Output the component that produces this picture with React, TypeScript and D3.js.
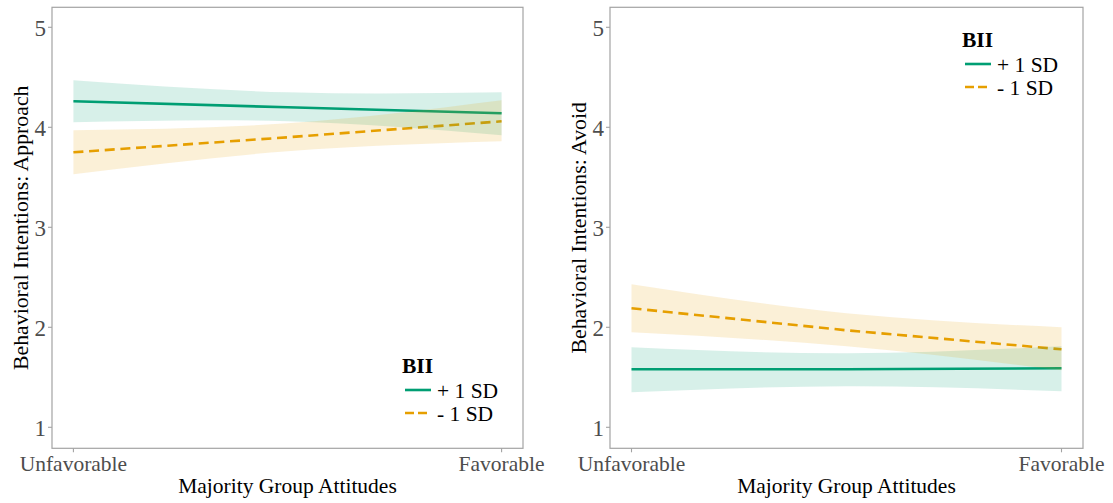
import React from 'react';
import * as d3 from 'd3';

// x positions where the fitted lines and bands were read (0 = Unfavorable, 1 = Favorable)
const xs = [0, 0.5, 1];
const xTickValues = [0, 1];
const xTickLabels = ['Unfavorable', 'Favorable'];
const yTicks = [1, 2, 3, 4, 5];
const groups = ['+ 1 SD', '- 1 SD'];

// Approach panel
const approachHighFit = [4.26, 4.2, 4.14];
const approachHighLo = [4.05, 4.06, 3.92];
const approachHighHi = [4.47, 4.35, 4.35];
const approachLowFit = [3.75, 3.9, 4.06];
const approachLowLo = [3.53, 3.76, 3.86];
const approachLowHi = [3.97, 4.04, 4.27];

// Avoid panel
const avoidHighFit = [1.58, 1.58, 1.59];
const avoidHighLo = [1.35, 1.41, 1.36];
const avoidHighHi = [1.8, 1.74, 1.81];
const avoidLowFit = [2.19, 1.97, 1.78];
const avoidLowLo = [1.95, 1.81, 1.57];
const avoidLowHi = [2.43, 2.14, 2.0];

const colors = ['#009E73', '#E69F00'];
const dashes = [null, '10,5.7'];
const FONT = '"Liberation Serif", "DejaVu Serif", serif';

const panels = [
  {
    left: 52, right: 523, title: 'Behavioral Intentions: Approach', legendY: 373,
    series: [
      { fit: approachHighFit, lo: approachHighLo, hi: approachHighHi },
      { fit: approachLowFit, lo: approachLowLo, hi: approachLowHi },
    ],
  },
  {
    left: 610, right: 1083, title: 'Behavioral Intentions: Avoid', legendY: 47,
    series: [
      { fit: avoidHighFit, lo: avoidHighLo, hi: avoidHighHi },
      { fit: avoidLowFit, lo: avoidLowLo, hi: avoidLowHi },
    ],
  },
];

const TOP = 7.3;
const BOTTOM = 448.3;

function Panel({ p }: { p: any }) {
  const x = d3.scaleLinear().domain([-0.05, 1.05]).range([p.left, p.right]);
  const y = d3.scaleLinear().domain([0.79, 5.2]).range([BOTTOM, TOP]);
  const line = d3.line<number>().x((d, i) => x(xs[i])).y((d) => y(d));
  const cx = (p.left + p.right) / 2;
  const lx = p.right - 121;

  return (
    <g>
      {p.series.map((s: any, i: number) => (
        <path key={'l' + i} d={line(s.fit) || ''} fill="none" stroke={colors[i]}
          strokeWidth={2.6} strokeDasharray={dashes[i] || undefined} />
      ))}
      {p.series.map((s: any, i: number) => {
        const area = d3.area<number>()
          .curve(d3.curveNatural)
          .x((d, j) => x(xs[j]))
          .y0((d, j) => y(s.lo[j]))
          .y1((d) => y(d));
        return <path key={'r' + i} d={area(s.hi) || ''} fill={colors[i]} fillOpacity={0.155} />;
      })}
      <rect x={p.left} y={TOP} width={p.right - p.left} height={BOTTOM - TOP}
        fill="none" stroke="#a3a3a3" strokeWidth={1.2} />
      {yTicks.map((t) => (
        <g key={t}>
          <line x1={p.left - 4} x2={p.left} y1={y(t)} y2={y(t)} stroke="#a3a3a3" strokeWidth={1.1} />
          <text x={p.left - 6} y={y(t)} dy="0.36em" textAnchor="end" fontSize={23} fill="#4d4d4d">{t}</text>
        </g>
      ))}
      {xTickValues.map((t, i) => (
        <g key={t}>
          <line x1={x(t)} x2={x(t)} y1={BOTTOM} y2={BOTTOM + 4} stroke="#a3a3a3" strokeWidth={1.1} />
          <text x={x(t)} y={471} textAnchor="middle" fontSize={21.5} fill="#4d4d4d">{xTickLabels[i]}</text>
        </g>
      ))}
      <text x={cx} y={493} textAnchor="middle" fontSize={21.5} fill="#000">Majority Group Attitudes</text>
      <text transform={`translate(${p.left - 24},${(TOP + BOTTOM) / 2}) rotate(-90)`} textAnchor="middle"
        fontSize={21.8} fill="#000">{p.title}</text>
      <g>
        <text x={lx} y={p.legendY} fontSize={21.5} fontWeight="bold" fill="#000">BII</text>
        {groups.map((g, i) => (
          <g key={g}>
            <line x1={lx + 3} x2={lx + 29} y1={p.legendY + 17 + i * 23} y2={p.legendY + 17 + i * 23}
              stroke={colors[i]} strokeWidth={2.6} strokeDasharray={i ? '9,4' : undefined} />
            <text x={lx + 35} y={p.legendY + 24.5 + i * 23} fontSize={21.5} fill="#000">{g}</text>
          </g>
        ))}
      </g>
    </g>
  );
}

export default function App() {
  return (
    <svg width={1113} height={503} style={{ position: 'absolute', left: 0, top: 0, fontFamily: FONT }}>
      <rect width={1113} height={503} fill="#fff" />
      {panels.map((p, i) => <Panel key={i} p={p} />)}
    </svg>
  );
}
